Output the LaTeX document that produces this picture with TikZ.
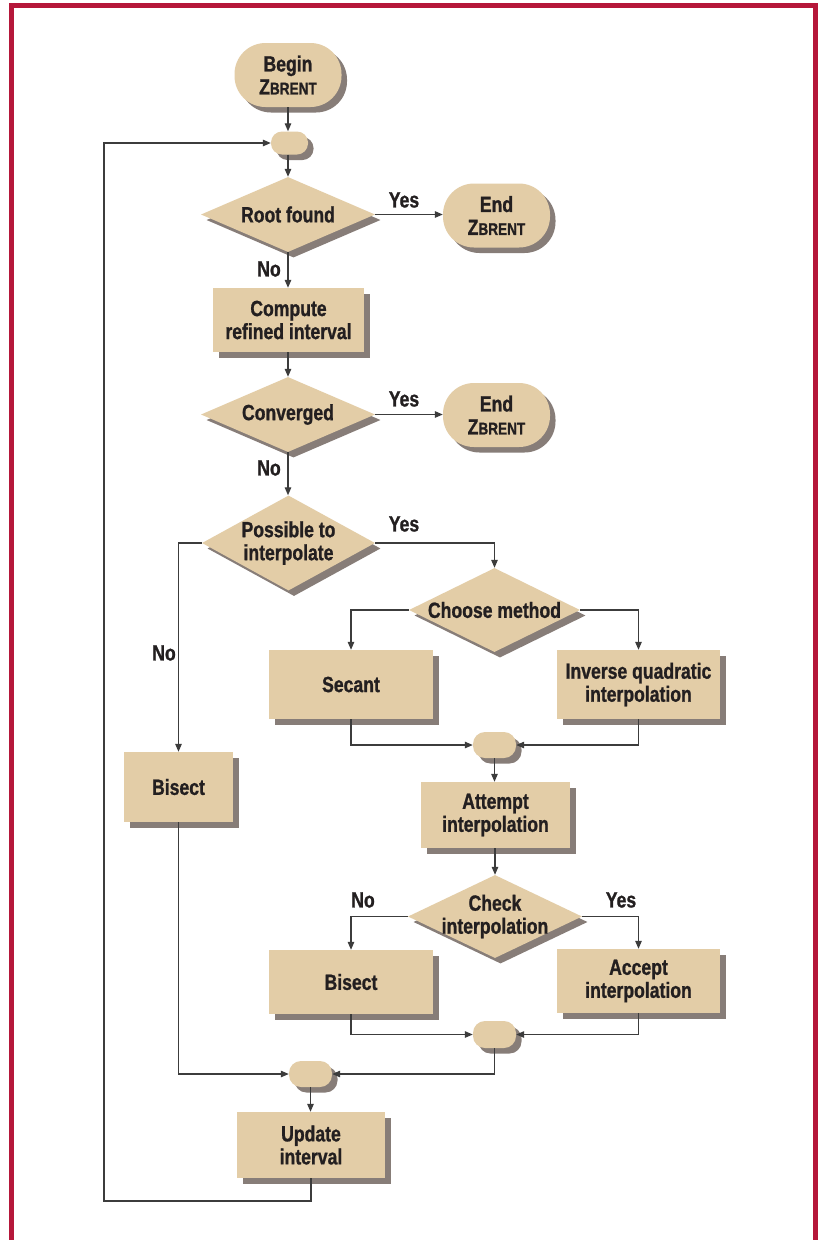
\documentclass[tikz,border=0pt]{standalone}
\usepackage{fontspec}
\setmainfont{Liberation Sans}[FakeStretch=0.80,BoldFeatures={FakeBold=1}]
\usetikzlibrary{shapes.geometric,shadows,arrows.meta}
\definecolor{beige}{HTML}{E3CDA7}
\definecolor{shcol}{HTML}{877D78}
\definecolor{txtcol}{HTML}{231F20}
\definecolor{framered}{HTML}{B5173A}
\definecolor{linecol}{HTML}{3C3C3C}
\newcommand\zbrent{Z{\fontsize{17}{17}\selectfont BRENT}}
\begin{document}
\begin{tikzpicture}[x=1pt,y=-1pt,
  txt/.style={text=txtcol, font=\bfseries\fontsize{22}{23}\selectfont, align=center, inner sep=0pt},
  base/.style={txt, fill=beige, draw=none,
    drop shadow={shadow xshift=5.5pt,shadow yshift=-5.5pt,opacity=1,fill=shcol}},
  boxs/.style={base, rectangle},
  term/.style={base, rectangle, rounded corners=31pt, minimum width=107pt, minimum height=64pt},
  dia/.style={base, diamond},
  conn/.style={base, rectangle, rounded corners=12pt, minimum width=43pt, minimum height=26pt},
  flow/.style={draw=linecol, line width=1.2pt, -{Triangle[length=8pt,width=6.5pt]}},
  plain/.style={draw=linecol, line width=1.2pt}]
\fill[white] (0,0) rectangle (817,1240);
\useasboundingbox (0,0) rectangle (817,1240);
\draw[framered, line width=5pt] (11.5,1250) -- (11.5,5.5) -- (815,5.5) -- (815,1250);

% nodes
\node[term] (begin) at (288,75) {Begin\\\zbrent};
\node[conn, minimum width=37pt, minimum height=23pt, rounded corners=11pt] (c1) at (289.5,143) {};
\node[dia, minimum width=174pt, minimum height=75pt] (root) at (288,214.5) {};
\node[txt] (roott) at (root) {Root found};
\node[term] (end1) at (496.5,215.5) {End\\\zbrent};
\node[boxs, minimum width=151pt, minimum height=64pt] (compute) at (288.5,320) {Compute\\refined interval};
\node[dia, minimum width=174pt, minimum height=75pt] (conv) at (288,414.5) {};
\node[txt] (convt) at (conv) {Converged};
\node[term] (end2) at (496.5,415) {End\\\zbrent};
\node[dia, minimum width=173pt, minimum height=95pt] (poss) at (288.5,543) {};
\node[txt] (posst) at (poss) {Possible to\\interpolate};
\node[dia, minimum width=171pt, minimum height=84pt] (choose) at (494.5,610) {};
\node[txt] (chooset) at (choose) {Choose method};
\node[boxs, minimum width=164pt, minimum height=69pt] (secant) at (351,684.5) {Secant};
\node[boxs, minimum width=163pt, minimum height=69pt] (inverse) at (638.5,684.5) {Inverse quadratic\\interpolation};
\node[conn] (c2) at (494.5,745) {};
\node[boxs, minimum width=149pt, minimum height=66pt] (attempt) at (495.5,815) {Attempt\\interpolation};
\node[dia, minimum width=174pt, minimum height=83pt] (check) at (495,916.5) {};
\node[txt] (checkt) at (check) {Check\\interpolation};
\node[boxs, minimum width=164pt, minimum height=64pt] (bis2) at (351,982) {Bisect};
\node[boxs, minimum width=163pt, minimum height=64pt] (accept) at (638.5,981) {Accept\\interpolation};
\node[conn, minimum height=27pt] (c3) at (494.5,1034.5) {};
\node[boxs, minimum width=109pt, minimum height=70pt] (bis1) at (178.5,787) {Bisect};
\node[conn] (c4) at (310.5,1074) {};
\node[boxs, minimum width=148pt, minimum height=66pt] (update) at (311,1145) {Update\\interval};
\coordinate (lp) at (104,1201);

% labels
\node[txt] (yes1) at (404,200) {Yes};
\node[txt] (no1) at (269,269) {No};
\node[txt] (yes2) at (404,399) {Yes};
\node[txt] (no2) at (269,468) {No};
\node[txt] (yes3) at (404,524) {Yes};
\node[txt] (no3) at (164,653) {No};
\node[txt] (no4) at (363,900) {No};
\node[txt] (yes4) at (621,900) {Yes};

% connectors
\draw[flow] (begin.south) -- (begin.south |- c1.north);
\draw[flow] (c1.south -| root.north) -- (root.north);
\draw[flow] (root.east) -- (root.east -| end1.west);
\draw[flow] (root.south) -- (root.south |- compute.north);
\draw[flow] (compute.south -| conv.north) -- (conv.north);
\draw[flow] (conv.east) -- (conv.east -| end2.west);
\draw[flow] (conv.south) -- (conv.south |- poss.north);
\draw[flow] (poss.east) -| (choose.north);
\draw[flow] (poss.west) -| (bis1.north);
\draw[flow] (choose.west) -| (secant.north);
\draw[flow] (choose.east) -| (inverse.north);
\draw[flow] (secant.south) |- (c2.west);
\draw[flow] (inverse.south) |- (c2.east);
\draw[flow] (c2.south) -- (c2.south |- attempt.north);
\draw[flow] (attempt.south -| check.north) -- (check.north);
\draw[flow] (check.west) -| (bis2.north);
\draw[flow] (check.east) -| (accept.north);
\draw[flow] (bis2.south) |- (c3.west);
\draw[flow] (accept.south) |- (c3.east);
\draw[flow] (c3.south) |- (c4.east);
\draw[flow] (bis1.south) |- (c4.west);
\draw[flow] (c4.south) -- (c4.south |- update.north);
\draw[flow] (update.south) |- (lp) |- (c1.west);
\end{tikzpicture}
\end{document}
